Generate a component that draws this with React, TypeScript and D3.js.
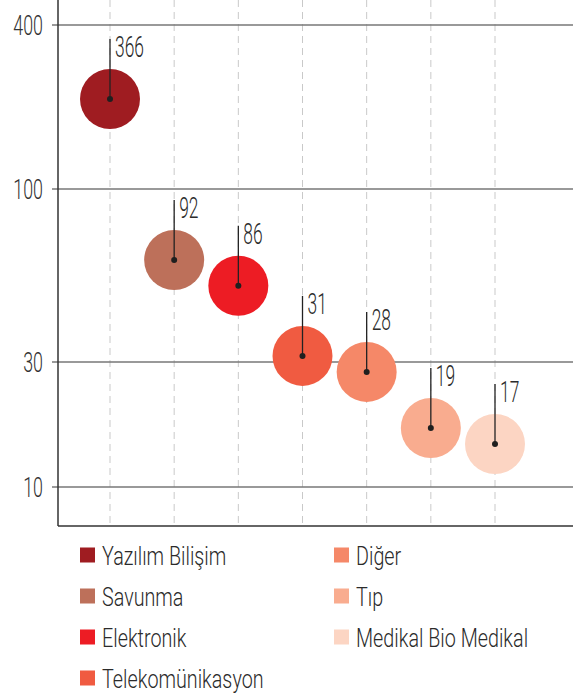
import React, { useEffect, useRef } from 'react';
import * as d3 from 'd3';

const sectors = [
  'Yazılım Bilişim',
  'Savunma',
  'Elektronik',
  'Telekomünikasyon',
  'Diğer',
  'Tıp',
  'Medikal Bio Medikal',
];
// printed value next to each bubble
const counts = [366, 92, 86, 31, 28, 19, 17];
// where each bubble centre sits when read against the y axis
const axisReadings = [214, 61, 51, 31.3, 27.5, 16.8, 14.6];
const yTicks = [10, 30, 100, 400];
const colors = ['#9f1c21', '#bd705a', '#ed1c24', '#f05b41', '#f58868', '#f9ac8f', '#fcd5c3'];

const FONT = 'Roboto, "Liberation Sans", sans-serif';

function Chart() {
  const node = useRef<SVGSVGElement | null>(null);

  useEffect(() => {
    const width = 573,
      height = 700;
    const axisX = 58,
      axisBottom = 526;
    const svg = d3.select(node.current);
    svg.selectAll('*').remove();

    const x = d3.scalePoint<string>().domain(sectors).range([110, 495]);
    const y = d3
      .scaleLog()
      .domain(yTicks)
      .range([487, 362, 189, 25]);

    const data = sectors.map((s, i) => ({
      sector: s,
      count: counts[i],
      reading: axisReadings[i],
      color: colors[i],
    }));

    // dashed verticals
    svg
      .append('g')
      .selectAll('line')
      .data(sectors)
      .enter()
      .append('line')
      .attr('x1', d => x(d)!)
      .attr('x2', d => x(d)!)
      .attr('y1', 0)
      .attr('y2', axisBottom)
      .attr('stroke', '#c9c9c9')
      .attr('stroke-width', 1)
      .attr('stroke-dasharray', '7,5');

    // horizontal grid
    svg
      .append('g')
      .selectAll('line')
      .data(yTicks)
      .enter()
      .append('line')
      .attr('x1', axisX - 6)
      .attr('x2', width)
      .attr('y1', d => y(d))
      .attr('y2', d => y(d))
      .attr('stroke', '#777')
      .attr('stroke-width', 1.6);

    // axes lines
    svg
      .append('line')
      .attr('x1', axisX)
      .attr('x2', axisX)
      .attr('y1', 0)
      .attr('y2', axisBottom)
      .attr('stroke', '#333')
      .attr('stroke-width', 1.5);
    svg
      .append('line')
      .attr('x1', axisX)
      .attr('x2', width)
      .attr('y1', axisBottom)
      .attr('y2', axisBottom)
      .attr('stroke', '#333')
      .attr('stroke-width', 1.5);

    // tick labels
    const yAxisGroup = svg.append('g').attr('transform', `translate(${axisX},0)`);
    yAxisGroup.call(
      d3
        .axisLeft(y)
        .tickValues(yTicks)
        .tickSize(0)
        .tickFormat(d => String(d))
    );
    yAxisGroup.select('.domain').remove();
    yAxisGroup
      .selectAll('text')
      .attr('x', 0)
      .attr('dy', '0.36em')
      .attr('transform', 'translate(-15,0) scale(0.66,1)')
      .style('font-family', FONT)
      .style('font-weight', 300)
      .style('font-size', '27px')
      .attr('fill', '#333');

    // bubbles
    svg
      .append('g')
      .selectAll('circle')
      .data(data)
      .enter()
      .append('circle')
      .attr('cx', d => x(d.sector)!)
      .attr('cy', d => y(d.reading))
      .attr('r', 30)
      .attr('fill', d => d.color);

    const marks = svg.append('g').selectAll('g').data(data).enter().append('g');
    marks
      .append('line')
      .attr('x1', d => x(d.sector)!)
      .attr('x2', d => x(d.sector)!)
      .attr('y1', d => y(d.reading))
      .attr('y2', d => y(d.reading) - 60)
      .attr('stroke', '#222')
      .attr('stroke-width', 1.3);
    marks
      .append('circle')
      .attr('cx', d => x(d.sector)!)
      .attr('cy', d => y(d.reading))
      .attr('r', 3)
      .attr('fill', '#1f1f1f');
    marks
      .append('text')
      .attr(
        'transform',
        d => `translate(${x(d.sector)! + 5},${y(d.reading) - 60 + 18}) scale(0.6,1)`
      )
      .style('font-family', FONT)
      .style('font-weight', 300)
      .style('font-size', '29px')
      .attr('fill', '#2b2b2b')
      .text(d => d.count);

    // legend
    const legend = svg
      .append('g')
      .selectAll('g')
      .data(data)
      .enter()
      .append('g')
      .attr('transform', (d, i) => {
        const col = i < 4 ? 0 : 1;
        const row = i < 4 ? i : i - 4;
        return `translate(${80 + col * 254},${555 + row * 41})`;
      });
    legend
      .append('rect')
      .attr('x', 0)
      .attr('y', -7.5)
      .attr('width', 15)
      .attr('height', 15)
      .attr('fill', d => d.color);
    legend
      .append('text')
      .attr('transform', 'translate(22,9.5) scale(0.76,1)')
      .style('font-family', FONT)
      .style('font-weight', 300)
      .style('font-size', '26px')
      .attr('fill', '#2b2b2b')
      .text(d => d.sector);

    svg.attr('width', width).attr('height', height);
  }, []);

  return <svg ref={node} style={{ position: 'absolute', left: 0, top: 0, display: 'block' }} />;
}

export default function App() {
  return <Chart />;
}
